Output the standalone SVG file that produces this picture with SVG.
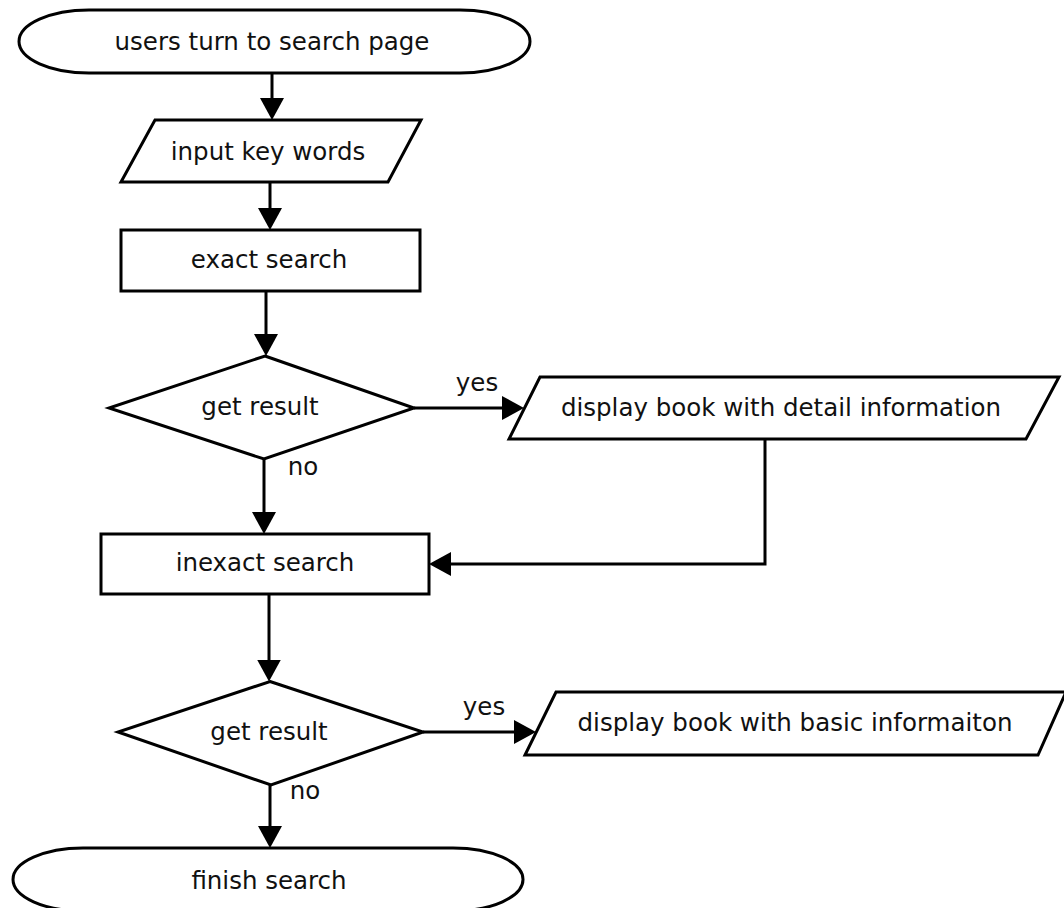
<svg xmlns="http://www.w3.org/2000/svg" width="1064" height="908" viewBox="0 0 1064 908">
<style>
.shape{fill:#fff;stroke:#000;stroke-width:3;stroke-linejoin:miter}
.lbl{font-family:"DejaVu Sans","Verdana",sans-serif;font-size:24.5px;fill:#111;text-anchor:middle}
.conn{fill:none;stroke:#000;stroke-width:3;marker-end:url(#arr)}
</style>
<defs>
<marker id="arr" markerUnits="userSpaceOnUse" viewBox="0 0 22 24" markerWidth="22" markerHeight="24" refX="11" refY="12" orient="auto">
<path d="M0,0 L22,12 L0,24 z" fill="#000"/>
</marker>
</defs>
<rect width="1064" height="908" fill="#fff"/>
<g id="connectors">
<line class="conn" x1="272" y1="73" x2="272" y2="109"/>
<line class="conn" x1="270" y1="182" x2="270" y2="219"/>
<line class="conn" x1="266" y1="291" x2="266" y2="345"/>
<line class="conn" x1="414" y1="408" x2="513" y2="408"/>
<path class="conn" d="M765,439 V564 H440"/>
<line class="conn" x1="264" y1="459" x2="264" y2="523"/>
<line class="conn" x1="269" y1="594" x2="269" y2="670.5"/>
<line class="conn" x1="423" y1="732" x2="525" y2="732"/>
<line class="conn" x1="270" y1="785" x2="270" y2="837"/>
<text class="lbl" x="477" y="391">yes</text>
<text class="lbl" x="303" y="475">no</text>
<text class="lbl" x="484" y="715">yes</text>
<text class="lbl" x="305" y="799">no</text>
</g>
<g id="start">
<rect class="shape" x="19" y="10" width="511" height="63" rx="70" ry="31.5"/>
<text class="lbl" x="272" y="50">users turn to search page</text>
</g>
<g id="input">
<polygon class="shape" points="155,120 421,120 388,182 121,182"/>
<text class="lbl" x="268" y="160">input key words</text>
</g>
<g id="exact">
<rect class="shape" x="121" y="230" width="299" height="61"/>
<text class="lbl" x="269" y="268">exact search</text>
</g>
<g id="decision1">
<polygon class="shape" points="265,356 414,408 264,459 109,408"/>
<text class="lbl" x="260" y="415">get result</text>
</g>
<g id="detail">
<polygon class="shape" points="540,377 1059,377 1026,439 509,439"/>
<text class="lbl" x="781" y="416">display book with detail information</text>
</g>
<g id="inexact">
<rect class="shape" x="101" y="534" width="328" height="60"/>
<text class="lbl" x="265" y="571">inexact search</text>
</g>
<g id="decision2">
<polygon class="shape" points="270,681.5 423,732 271,785 118,732"/>
<text class="lbl" x="269" y="740">get result</text>
</g>
<g id="basic">
<polygon class="shape" points="556,692 1066,692 1038,755 525,755"/>
<text class="lbl" x="795" y="731">display book with basic informaiton</text>
</g>
<g id="finish">
<rect class="shape" x="13" y="848" width="510" height="63" rx="70" ry="31.5"/>
<text class="lbl" x="269" y="889">finish search</text>
</g>
</svg>
